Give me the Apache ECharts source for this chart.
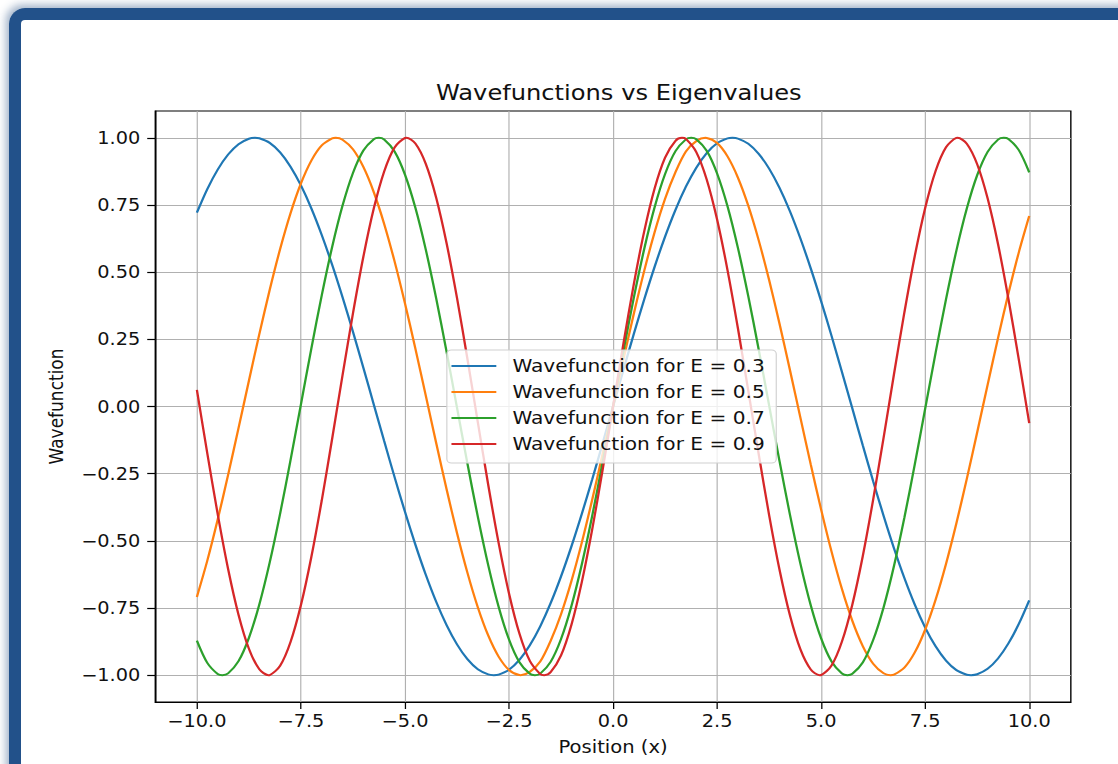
<!DOCTYPE html>
<html>
<head>
<meta charset="utf-8">
<script src="https://cdn.jsdelivr.net/npm/echarts@6/dist/echarts.min.js"></script>
<style>
  html, body { margin:0; padding:0; width:1118px; height:764px; overflow:hidden; background:#fff; }
  #frame { position:absolute; left:9px; top:8px; width:1300px; height:1000px;
           border-left:12px solid #22518a; border-top:12px solid #22518a;
           border-radius:16px 0 0 0;
           box-shadow:-3px -3px 8px rgba(40,80,130,0.45); box-sizing:border-box; }
  /* the reference figure is stretched horizontally by ~1.15 */
  #chart { position:absolute; left:0; top:0; width:972px; height:764px;
           transform: scaleX(1.150206); transform-origin: 0 0; }
</style>
</head>
<body>
<div id="frame"></div>
<div id="chart"></div>
<script>
const xs = [-10,-9.75,-9.5,-9.25,-9,-8.75,-8.5,-8.25,-8,-7.75,-7.5,-7.25,-7,-6.75,-6.5,-6.25,-6,-5.75,-5.5,-5.25,
            -5,-4.75,-4.5,-4.25,-4,-3.75,-3.5,-3.25,-3,-2.75,-2.5,-2.25,-2,-1.75,-1.5,-1.25,-1,-0.75,-0.5,-0.25,0,
            0.25,0.5,0.75,1,1.25,1.5,1.75,2,2.25,2.5,2.75,3,3.25,3.5,3.75,4,4.25,4.5,4.75,
            5,5.25,5.5,5.75,6,6.25,6.5,6.75,7,7.25,7.5,7.75,8,8.25,8.5,8.75,9,9.25,9.5,9.75,10];

const psiE03 = [0.7215,0.8093,0.8819,0.9380,0.9765,0.9968,0.9984,0.9813,0.9458,0.8927,0.8228,0.7375,0.6384,0.5274,0.4065,0.2780,0.1442,0.0078,-0.1288,-0.2629,
                -0.3922,-0.5141,-0.6263,-0.7269,-0.8138,-0.8855,-0.9407,-0.9782,-0.9974,-0.9979,-0.9798,-0.9433,-0.8891,-0.8183,-0.7322,-0.6324,-0.5207,-0.3993,-0.2705,-0.1365,0,
                0.1365,0.2705,0.3993,0.5207,0.6324,0.7322,0.8183,0.8891,0.9433,0.9798,0.9979,0.9974,0.9782,0.9407,0.8855,0.8138,0.7269,0.6263,0.5141,
                0.3922,0.2629,0.1288,-0.0078,-0.1442,-0.2780,-0.4065,-0.5274,-0.6384,-0.7375,-0.8228,-0.8927,-0.9458,-0.9813,-0.9984,-0.9968,-0.9765,-0.9380,-0.8819,-0.8093,-0.7215];
const psiE05 = [-0.7089,-0.5738,-0.4208,-0.2547,-0.0807,0.0959,0.2694,0.4346,0.5862,0.7195,0.8304,0.9155,0.9720,0.9982,0.9932,0.9574,0.8917,0.7982,0.6798,0.5402,
                0.3838,0.2155,0.0404,-0.1360,-0.3081,-0.4706,-0.6184,-0.7470,-0.8523,-0.9310,-0.9807,-0.9998,-0.9878,-0.9495,-0.8726,-0.7732,-0.6496,-0.5058,-0.3462,-0.1759,0,
                0.1759,0.3462,0.5058,0.6496,0.7732,0.8726,0.9495,0.9878,0.9998,0.9807,0.9310,0.8523,0.7470,0.6184,0.4706,0.3081,0.1360,-0.0404,-0.2155,
                -0.3838,-0.5402,-0.6798,-0.7982,-0.8917,-0.9574,-0.9932,-0.9982,-0.9720,-0.9155,-0.8304,-0.7195,-0.5862,-0.4346,-0.2694,-0.0959,0.0807,0.2547,0.4208,0.5738,0.7089];
const psiE07 = [-0.8715,-0.9543,-0.9956,-0.9934,-0.9480,-0.8612,-0.7369,-0.5804,-0.3987,-0.1996,0.0082,0.2157,0.4138,0.5938,0.7479,0.8694,0.9531,0.9952,0.9939,0.9493,
                0.8633,0.7396,0.5838,0.4025,0.2036,-0.0041,-0.2117,-0.4100,-0.5904,-0.7452,-0.8674,-0.9518,-0.9947,-0.9943,-0.9505,-0.8654,-0.7424,-0.5871,-0.4062,-0.2076,0,
                0.2076,0.4062,0.5871,0.7424,0.8654,0.9505,0.9943,0.9947,0.9518,0.8674,0.7452,0.5904,0.4100,0.2117,0.0041,-0.2036,-0.4025,-0.5838,-0.7396,
                -0.8633,-0.9493,-0.9939,-0.9952,-0.9531,-0.8694,-0.7479,-0.5938,-0.4138,-0.2157,-0.0082,0.1996,0.3987,0.5804,0.7369,0.8612,0.9480,0.9934,0.9956,0.9543,0.8715];
const psiE09 = [0.0620,-0.1742,-0.4007,-0.6048,-0.7749,-0.9017,-0.9781,-0.9996,-0.9652,-0.8768,-0.7392,-0.5603,-0.3500,-0.1201,0.1165,0.3466,0.5573,0.7368,0.8750,0.9643,
                0.9995,0.9788,0.9033,0.7773,0.6077,0.4041,0.1778,-0.0583,-0.2913,-0.5079,-0.6961,-0.8453,-0.9472,-0.9960,-0.9891,-0.9268,-0.8127,-0.6530,-0.4568,-0.2350,0,
                0.2350,0.4568,0.6530,0.8127,0.9268,0.9891,0.9960,0.9472,0.8453,0.6961,0.5079,0.2913,0.0583,-0.1778,-0.4041,-0.6077,-0.7773,-0.9033,-0.9788,
                -0.9995,-0.9643,-0.8750,-0.7368,-0.5573,-0.3466,-0.1165,0.1201,0.3500,0.5603,0.7392,0.8768,0.9652,0.9996,0.9781,0.9017,0.7749,0.6048,0.4007,0.1742,-0.0620];

// positions of the crests and troughs of each curve
const peakXE03 = [-8.6037,-2.8679,2.8679,8.6037];
const peakYE03 = [1,-1,1,-1];
const peakXE05 = [-6.6643,-2.2214,2.2214,6.6643];
const peakYE05 = [1,-1,1,-1];
const peakXE07 = [-9.3875,-5.6325,-1.8775,1.8775,5.6325,9.3875];
const peakYE07 = [-1,1,-1,1,-1,1];
const peakXE09 = [-8.2788,-4.9673,-1.6558,1.6558,4.9673,8.2788];
const peakYE09 = [-1,1,-1,1,-1,1];

const seriesNames = ['Wavefunction for E = 0.3','Wavefunction for E = 0.5','Wavefunction for E = 0.7','Wavefunction for E = 0.9'];
const seriesY = [psiE03, psiE05, psiE07, psiE09];
const peaksX = [peakXE03, peakXE05, peakXE07, peakXE09];
const peaksY = [peakYE03, peakYE05, peakYE07, peakYE09];
const colors = ['#1f77b4','#ff7f0e','#2ca02c','#d62728'];
const xTicks = [-10,-7.5,-5,-2.5,0,2.5,5,7.5,10];
const yTicks = [-1,-0.75,-0.5,-0.25,0,0.25,0.5,0.75,1];

const FONT = 'DejaVu Sans';
const fmt = (v, d) => (v < -1e-9 ? '\u2212' : '') + Math.abs(v).toFixed(d);

function buildData(i) {
  const pts = xs.map((x, j) => [x, seriesY[i][j]])
    .concat(peaksX[i].map((x, j) => [x, peaksY[i][j]]));
  pts.sort((a, b) => a[0] - b[0]);
  return pts;
}

const chart = echarts.init(document.getElementById('chart'), null, {renderer:'svg'});
chart.setOption({
  backgroundColor: 'transparent',
  animation: false,
  color: colors,
  title: {
    text: 'Wavefunctions vs Eigenvalues',
    left: 533, top: 77, textAlign: 'center',
    textStyle: { fontFamily: FONT, fontSize: 21, fontWeight: 'normal', color: '#111' }
  },
  grid: {
    left: 135, right: 41, top: 111, bottom: 62,
    show: true, borderColor: '#000', borderWidth: 1.2,
    containLabel: false, outerBoundsMode: 'none'
  },
  legend: {
    orient: 'vertical',
    left: 388.5, top: 350,
    icon: 'rect',
    itemWidth: 39, itemHeight: 2, itemGap: 8,
    padding: [7, 10, 10, 4],
    backgroundColor: 'rgba(255,255,255,0.8)',
    borderColor: '#d0d0d0', borderWidth: 1, borderRadius: 4,
    textStyle: { fontFamily: FONT, fontSize: 17.5, color: '#111', padding: [0,0,0,9] },
    data: seriesNames
  },
  xAxis: {
    type: 'value', min: -11, max: 11,
    name: 'Position (x)', nameLocation: 'middle', nameGap: 36,
    nameTextStyle: { fontFamily: FONT, fontSize: 17, color: '#111' },
    axisLine: { show: true, onZero: false, lineStyle: { color: '#000', width: 1.2 } },
    axisTick: { show: true, inside: false, length: 7, customValues: xTicks, lineStyle: { color: '#000', width: 1.1 } },
    axisLabel: { customValues: xTicks, margin: 10, fontFamily: FONT, fontSize: 16.8, color: '#111',
                 formatter: v => fmt(v, 1) },
    splitLine: { show: true, lineStyle: { color: '#b0b0b0', width: 1 } }
  },
  yAxis: {
    type: 'value', min: -1.1, max: 1.1,
    name: 'Wavefunction', nameLocation: 'middle', nameGap: 78, nameRotate: 90,
    nameTextStyle: { fontFamily: FONT, fontSize: 17, color: '#111' },
    axisLine: { show: true, onZero: false, lineStyle: { color: '#000', width: 1.2 } },
    axisTick: { show: true, inside: false, length: 7, customValues: yTicks, lineStyle: { color: '#000', width: 1.2 } },
    axisLabel: { customValues: yTicks, margin: 13, fontFamily: FONT, fontSize: 16.8, color: '#111',
                 formatter: v => fmt(v, 2) },
    splitLine: { show: true, lineStyle: { color: '#b0b0b0', width: 1 } }
  },
  series: seriesNames.map((name, i) => ({
    name: name,
    type: 'line',
    symbol: 'none',
    smooth: 0.3,
    lineStyle: { width: 2, color: colors[i] },
    itemStyle: { color: colors[i] },
    data: buildData(i)
  }))
});
</script>
</body>
</html>
